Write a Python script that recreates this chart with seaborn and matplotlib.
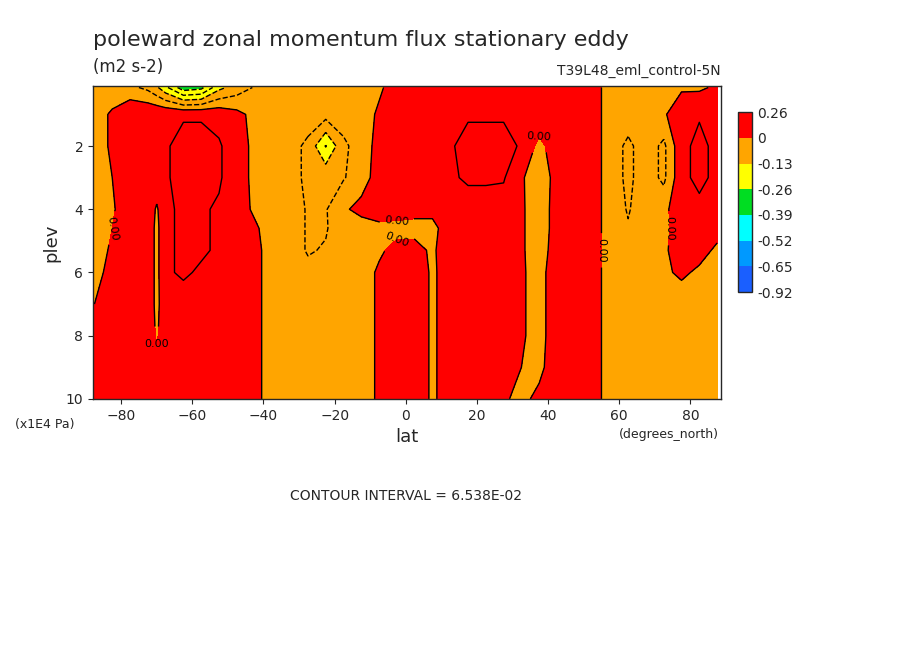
import matplotlib
matplotlib.use('agg')
import matplotlib.pyplot as plt
import seaborn as sns
import numpy as np
from matplotlib.colors import ListedColormap, BoundaryNorm

# --- data ---
lat = [-87.5, -82.5, -77.5, -72.5, -70, -67.5, -62.5, -57.5, -52.5, -47.5, -42.5, -37.5,
       -32.5, -27.5, -22.5, -17.5, -12.5, -7.5, -2.5, 2.5, 7.5, 12.5, 17.5, 22.5,
       27.5, 32.5, 37.5, 42.5, 47.5, 52.5, 57.5, 62.5, 67.5, 72.5, 77.5, 82.5, 87.5]
plev = [0.15, 1, 2, 3, 4, 4.6, 5.3, 6, 7, 8, 9, 10]
flux = [
    # 0.15
    [-0.03, -0.04, -0.05, -0.08, -0.12, -0.18, -0.3, -0.28, -0.15, -0.1, -0.06, -0.04, -0.03, -0.03, -0.03, -0.03, -0.03, -0.01, 0.03, 0.04, 0.04, 0.04, 0.04, 0.04, 0.04, 0.04, 0.04, 0.04, 0.04, 0.03, -0.03, -0.03, -0.03, -0.02, -0.01, -0.01, 0.01],
    # 1
    [-0.03, 0.01, 0.06, 0.06, 0.06, 0.06, 0.06, 0.06, 0.05, 0.02, -0.02, -0.03, -0.03, -0.03, -0.04, -0.03, -0.03, 0.01, 0.06, 0.06, 0.06, 0.06, 0.06, 0.06, 0.06, 0.06, 0.05, 0.05, 0.05, 0.03, -0.03, -0.03, -0.03, -0.01, 0.05, 0.06, 0.05],
    # 2
    [-0.03, 0.01, 0.05, 0.05, 0.05, 0.06, 0.08, 0.08, 0.07, 0.04, -0.02, -0.03, -0.04, -0.08, -0.2, -0.08, -0.03, 0.02, 0.05, 0.05, 0.05, 0.06, 0.08, 0.08, 0.08, 0.06, -0.02, 0.04, 0.02, 0.03, -0.03, -0.08, -0.03, -0.08, 0.05, 0.08, 0.05],
    # 3
    [-0.03, 0.0, 0.05, 0.05, 0.05, 0.06, 0.08, 0.08, 0.07, 0.04, -0.02, -0.03, -0.04, -0.08, -0.08, -0.07, -0.03, 0.03, 0.05, 0.05, 0.05, 0.06, 0.07, 0.07, 0.07, 0.01, -0.05, 0.03, 0.02, 0.03, -0.03, -0.08, -0.03, -0.08, 0.05, 0.08, 0.05],
    # 4
    [-0.03, -0.01, 0.05, 0.05, -0.01, 0.06, 0.07, 0.07, 0.06, 0.03, -0.01, -0.03, -0.04, -0.07, -0.07, -0.01, 0.02, 0.04, 0.03, 0.02, 0.02, 0.04, 0.05, 0.05, 0.04, 0.01, -0.04, 0.03, 0.02, 0.03, -0.03, -0.07, -0.03, -0.02, 0.05, 0.05, 0.04],
    # 4.6
    [-0.03, 0.0, 0.05, 0.05, -0.02, 0.06, 0.07, 0.07, 0.06, 0.03, 0.01, -0.03, -0.04, -0.07, -0.07, -0.03, -0.03, -0.02, -0.02, -0.02, -0.02, 0.04, 0.05, 0.05, 0.04, 0.01, -0.04, 0.03, 0.03, 0.03, -0.03, -0.06, -0.03, -0.02, 0.04, 0.04, 0.02],
    # 5.3
    [-0.03, 0.01, 0.05, 0.05, -0.02, 0.06, 0.07, 0.07, 0.06, 0.04, 0.02, -0.03, -0.04, -0.07, -0.06, -0.03, -0.03, -0.01, 0.02, 0.02, -0.01, 0.04, 0.05, 0.05, 0.04, 0.01, -0.04, 0.04, 0.04, 0.03, -0.03, -0.05, -0.03, -0.01, 0.03, 0.02, -0.01],
    # 6
    [-0.02, 0.02, 0.05, 0.05, -0.02, 0.06, 0.07, 0.06, 0.05, 0.04, 0.02, -0.03, -0.04, -0.05, -0.04, -0.03, -0.03, 0.01, 0.05, 0.04, -0.01, 0.03, 0.05, 0.05, 0.04, 0.01, -0.03, 0.05, 0.05, 0.03, -0.03, -0.03, -0.03, -0.01, 0.01, -0.01, -0.03],
    # 7
    [0.0, 0.03, 0.05, 0.05, -0.02, 0.05, 0.05, 0.05, 0.05, 0.04, 0.02, -0.03, -0.03, -0.03, -0.03, -0.03, -0.03, 0.01, 0.05, 0.04, -0.01, 0.03, 0.05, 0.05, 0.04, 0.01, -0.03, 0.05, 0.05, 0.03, -0.03, -0.03, -0.03, -0.03, -0.03, -0.03, -0.03],
    # 8
    [0.02, 0.03, 0.05, 0.05, -0.01, 0.05, 0.05, 0.05, 0.05, 0.04, 0.02, -0.03, -0.03, -0.03, -0.03, -0.03, -0.03, 0.01, 0.05, 0.04, -0.01, 0.03, 0.05, 0.05, 0.04, 0.01, -0.03, 0.05, 0.05, 0.03, -0.03, -0.03, -0.03, -0.03, -0.03, -0.03, -0.03],
    # 9
    [0.02, 0.03, 0.05, 0.05, 0.03, 0.05, 0.05, 0.05, 0.05, 0.04, 0.02, -0.03, -0.03, -0.03, -0.03, -0.03, -0.03, 0.01, 0.05, 0.04, -0.01, 0.03, 0.05, 0.05, 0.03, 0.0, -0.02, 0.05, 0.05, 0.03, -0.03, -0.03, -0.03, -0.03, -0.03, -0.03, -0.03],
    # 10
    [0.02, 0.03, 0.05, 0.05, 0.04, 0.05, 0.05, 0.05, 0.05, 0.04, 0.02, -0.03, -0.03, -0.03, -0.03, -0.03, -0.03, 0.01, 0.05, 0.04, -0.01, 0.03, 0.05, 0.05, 0.01, -0.02, 0.02, 0.05, 0.05, 0.03, -0.03, -0.03, -0.03, -0.03, -0.03, -0.03, -0.03],
]
levels = [-0.92, -0.65, -0.52, -0.39, -0.26, -0.13, 0, 0.26]
level_labels = ['-0.92', '-0.65', '-0.52', '-0.39', '-0.26', '-0.13', '0', '0.26']
colors = ['#1a5fff', '#0099ff', '#00ffff', '#00dd22', '#ffff00', '#ffa500', '#ff0000']

sns.set_style('ticks')
plt.rcParams['font.family'] = ['DejaVu Sans']

fig = plt.figure(figsize=(9.04, 6.54), dpi=100)
ax = fig.add_axes([0.1029, 0.39, 0.6947, 0.4786])

X, Y = np.meshgrid(lat, plev)
Z = np.array(flux)
cmap = ListedColormap(colors)
norm = BoundaryNorm(levels, cmap.N)
cf = ax.contourf(X, Y, Z, levels=levels, cmap=cmap, norm=norm)
cs = ax.contour(X, Y, Z, levels=[-0.26, -0.196, -0.131, -0.065, 0, 0.065], colors='black', linewidths=1)
cs.set_linestyles(['--' if l < 0 else '-' for l in cs.levels])
ax.clabel(cs, levels=[0], fmt='%.2f', fontsize=8, inline=True)

ax.set_xlim(-87.9, 88.6)
ax.set_ylim(10, 0.1)
ax.set_xticks([-80, -60, -40, -20, 0, 20, 40, 60, 80])
ax.set_yticks([2, 4, 6, 8, 10])
ax.tick_params(labelsize=10)
ax.set_xlabel('lat', fontsize=13)
ax.set_ylabel('plev', fontsize=13)
for s in ax.spines.values():
    s.set_visible(True)
    s.set_linewidth(1)

fig.text(0.1029, 0.93, 'poleward zonal momentum flux stationary eddy', fontsize=16, va='baseline')
fig.text(0.1029, 0.89, '(m2 s-2)', fontsize=12, va='baseline')
fig.text(0.797, 0.886, 'T39L48_eml_control-5N', fontsize=10, ha='right', va='baseline')
fig.text(0.017, 0.345, '(x1E4 Pa)', fontsize=9)
fig.text(0.685, 0.331, '(degrees_north)', fontsize=9)
fig.text(0.449, 0.235, 'CONTOUR INTERVAL = 6.538E-02', fontsize=10, ha='center')

cax = fig.add_axes([0.8164, 0.5535, 0.0155, 0.275])
cb = fig.colorbar(cf, cax=cax, spacing='uniform', ticks=levels)
cb.ax.set_yticklabels(level_labels)
cb.ax.tick_params(labelsize=10, length=0)
cb.outline.set_linewidth(1)

plt.savefig('out.png', dpi=100)
